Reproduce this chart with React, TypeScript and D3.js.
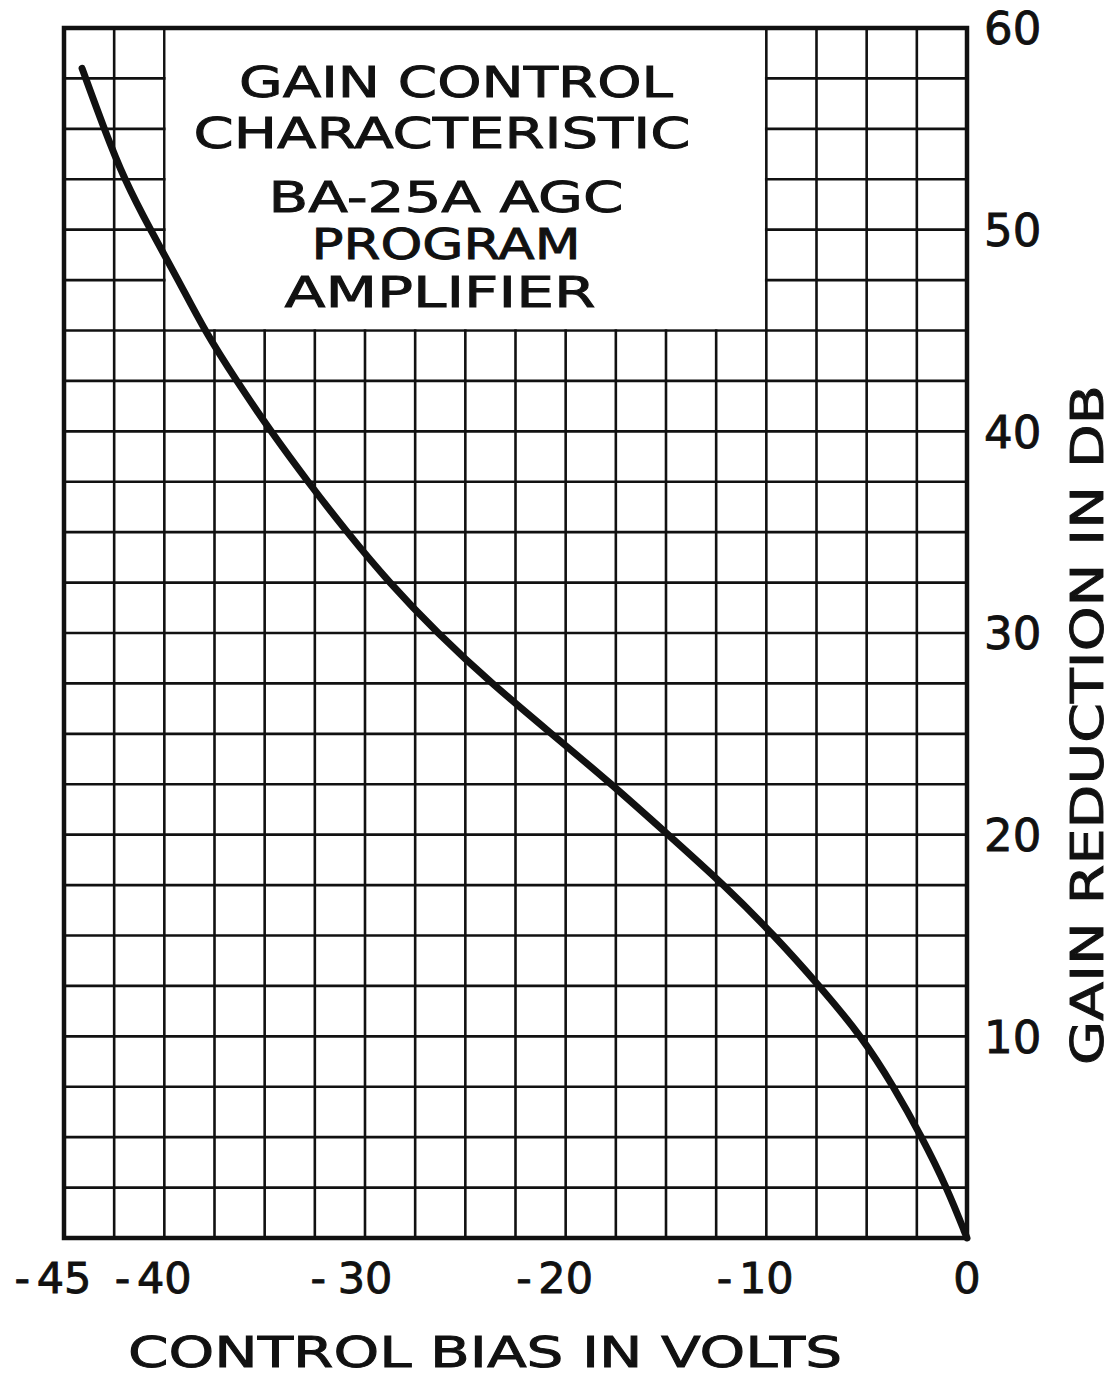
import React from "react";
import * as d3 from "d3";

// Data
const gainReductionDb = [58, 55, 52.5, 50, 47.5, 45, 42.5, 40, 37.5, 35, 32.5, 30, 27.5, 25, 22.5, 20, 17.5, 15, 12.5, 10, 7.5, 5, 2.5, 0];
const controlBiasV = [-44.1, -43.0, -42.0, -40.7, -39.3, -38.0, -36.4, -34.7, -32.85, -30.9, -28.8, -26.4, -23.7, -20.7, -17.7, -14.9, -12.1, -9.6, -7.35, -5.25, -3.65, -2.25, -1.0, 0];
const xTickValues = [-45, -40, -30, -20, -10, 0];
const yTickValues = [10, 20, 30, 40, 50, 60];
const titleLines = ["GAIN CONTROL", "CHARACTERISTIC", "BA-25A AGC", "PROGRAM", "AMPLIFIER"];
const xAxisTitle = "CONTROL BIAS IN VOLTS";
const yAxisTitle = "GAIN REDUCTION IN DB";
const titleBoxV = [-40, -10];
const titleBoxDb = [45, 60];

export default function App() {
  const W = 1114, H = 1378;
  const ink = "#111";
  const font = "'DejaVu Sans', 'Liberation Sans', sans-serif";
  const x = d3.scaleLinear().domain([-45, 0]).range([64, 967]);
  const y = d3.scaleLinear().domain([0, 60]).range([1238, 28]);

  const vLines = d3.range(-45, 0.001, 2.5);
  const hLines = d3.range(0, 60.001, 2.5);

  const pts = controlBiasV.map((v, i) => ({ v, g: gainReductionDb[i] }));
  const line = d3.line<{ v: number; g: number }>()
    .x(d => x(d.v))
    .y(d => y(d.g))
    .curve(d3.curveBasis);

  // title layout (baseline y, centre x, width)
  const titleLayout = [
    { by: 97, cx: 456, w: 434 },
    { by: 148, cx: 442, w: 497 },
    { by: 212, cx: 446, w: 355 },
    { by: 259, cx: 446, w: 269 },
    { by: 307, cx: 440, w: 311 },
  ];

  const bx0 = x(titleBoxV[0]), bx1 = x(titleBoxV[1]);
  const by0 = y(titleBoxDb[1]), by1 = y(titleBoxDb[0]);

  const textStyle = { fontFamily: font, fill: ink, stroke: ink, strokeWidth: 0.9 } as any;

  return (
    <div style={{ position: "absolute", left: 0, top: 0 }}>
      <svg width={W} height={H} viewBox={`0 0 ${W} ${H}`} style={{ display: "block", background: "#fff" }}>
        <rect x={0} y={0} width={W} height={H} fill="#fff" />
        {/* grid */}
        <g stroke={ink} strokeWidth={2.6}>
          {vLines.map(v => (
            <line key={"v" + v} x1={x(v)} x2={x(v)} y1={y(60)} y2={y(0)} />
          ))}
          {hLines.map(g => (
            <line key={"h" + g} x1={x(-45)} x2={x(0)} y1={y(g)} y2={y(g)} />
          ))}
        </g>
        {/* title box */}
        <rect x={bx0 + 1.4} y={by0 + 2} width={bx1 - bx0 - 2.8} height={by1 - by0 - 3.4} fill="#fff" />
        {/* frame */}
        <rect x={x(-45)} y={y(60)} width={x(0) - x(-45)} height={y(0) - y(60)} fill="none" stroke={ink} strokeWidth={4.5} />
        {/* curve */}
        <path d={line(pts) || ""} fill="none" stroke={ink} strokeWidth={7} strokeLinecap="round" strokeLinejoin="round" />
        {/* title text */}
        {titleLines.map((t, i) => (
          <text key={t} x={titleLayout[i].cx} y={titleLayout[i].by} textAnchor="middle" fontSize={43}
            textLength={titleLayout[i].w} lengthAdjust="spacingAndGlyphs" style={textStyle}>{t}</text>
        ))}
        {/* x tick labels */}
        {xTickValues.map(v => {
          const digits = String(Math.abs(v));
          const dw = digits.length * 29;
          return (
            <g key={"xt" + v}>
              <text x={x(v)} y={1293} textAnchor="middle" fontSize={43} style={textStyle}>{digits}</text>
              {v < 0 && (
                <text x={x(v) - dw / 2 - (v === -30 ? 10 : 5)} y={1293} textAnchor="end" fontSize={43} style={textStyle}>-</text>
              )}
            </g>
          );
        })}
        {/* y tick labels */}
        {yTickValues.map(g => (
          <text key={"yt" + g} x={984} y={y(g)} dy="0.36em" textAnchor="start" fontSize={45} style={textStyle}>{g}</text>
        ))}
        {/* axis titles */}
        <text x={485} y={1367} textAnchor="middle" fontSize={43} textLength={714} lengthAdjust="spacingAndGlyphs" style={textStyle}>{xAxisTitle}</text>
        <text transform="translate(1103,725) rotate(-90)" textAnchor="middle" fontSize={44} textLength={680} lengthAdjust="spacingAndGlyphs" style={textStyle}>{yAxisTitle}</text>
      </svg>
    </div>
  );
}
